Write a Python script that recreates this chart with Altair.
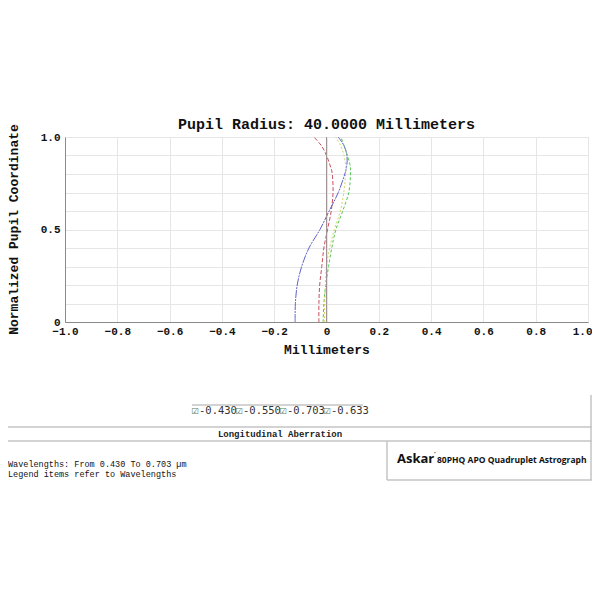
import altair as alt
import pandas as pd

# ---- data ----
pupil = [0.0, 0.1, 0.2, 0.3, 0.4, 0.5, 0.6, 0.7, 0.8, 0.85, 0.9, 0.95, 1.0]
wavelengths = ["0.430", "0.550", "0.703", "0.633"]
focus_430 = [-0.120, -0.119, -0.112, -0.095, -0.067, -0.025, 0.010, 0.045, 0.070, 0.078, 0.078, 0.068, 0.045]
focus_550 = [-0.013, -0.010, -0.003, 0.008, 0.020, 0.036, 0.062, 0.085, 0.092, 0.090, 0.080, 0.068, 0.055]
focus_703 = [-0.029, -0.029, -0.026, -0.018, -0.010, 0.004, 0.018, 0.025, 0.022, 0.013, 0.000, -0.018, -0.048]
focus_633 = [-0.008, -0.007, -0.004, 0.000, 0.012, 0.030, 0.053, 0.066, 0.073, 0.073, 0.067, 0.055, 0.035]
x_ticks = [-1.0, -0.8, -0.6, -0.4, -0.2, 0.0, 0.2, 0.4, 0.6, 0.8, 1.0]
y_ticks = [0.0, 0.1, 0.2, 0.3, 0.4, 0.5, 0.6, 0.7, 0.8, 0.9, 1.0]

colors = ["#5f63c9", "#55c455", "#c8505a", "#cfd460"]
dashes = [[8, 1, 2, 1], [3, 2], [4, 2], [2, 2]]

series = [focus_430, focus_550, focus_703, focus_633]
rows = []
for wl, vals in zip(wavelengths, series):
    for p, v in zip(pupil, vals):
        rows.append({"wl": wl, "mm": v, "pupil": p})
df = pd.DataFrame(rows)
one = pd.DataFrame({"k": [0]})

MONO = "Liberation Mono"
W, H = 523, 185

x_label = "datum.value == 0 ? '0' : format(datum.value, '.1f')"
y_label = ("abs(datum.value) < 0.001 ? '0' : (abs(datum.value - 0.5) < 0.001 ? '0.5' : "
           "(abs(datum.value - 1) < 0.001 ? '1.0' : ''))")

x_scale = alt.Scale(domain=[-1, 1], nice=False, zero=False)
y_scale = alt.Scale(domain=[0, 1], nice=False, zero=False)
x_axis = alt.Axis(values=x_ticks, labelExpr=x_label, title=None, ticks=False,
                  grid=True, gridColor="#e6e6e6", domainColor="#8a8a8a",
                  labelFont=MONO, labelFontWeight="bold", labelFontSize=11,
                  labelColor="#111", labelPadding=3, labelFlush=False,
                  labelOverlap=False,
                  labelAlign={"condition": {"test": "datum.value >= 0.99", "value": "right"},
                              "value": "center"},
                  labelOffset={"condition": {"test": "datum.value >= 0.99", "value": 4},
                               "value": 0})
y_axis = alt.Axis(values=y_ticks, labelExpr=y_label, title=None, ticks=False,
                  grid=True, gridColor="#e6e6e6", domainColor="#8a8a8a",
                  labelFont=MONO, labelFontWeight="bold", labelFontSize=11,
                  labelColor="#111", labelPadding=5, labelOverlap=False,
                  labelFlush=False)

curves = alt.Chart(df).mark_line(strokeWidth=1, interpolate="cardinal").encode(
    x=alt.X("mm:Q", scale=x_scale, axis=x_axis),
    y=alt.Y("pupil:Q", scale=y_scale, axis=y_axis),
    color=alt.Color("wl:N", scale=alt.Scale(domain=wavelengths, range=colors), legend=None),
    strokeDash=alt.StrokeDash("wl:N", scale=alt.Scale(domain=wavelengths, range=dashes), legend=None),
    order="pupil:Q",
)

zero_line = alt.Chart(pd.DataFrame({"mm": [0.0], "pupil": [0.0], "p2": [1.0]})).mark_rule(
    color="#a09292", strokeWidth=1).encode(
    x=alt.X("mm:Q", scale=x_scale, axis=x_axis),
    y=alt.Y("pupil:Q", scale=y_scale, axis=y_axis),
    y2="p2:Q")


def txt(t, x, y, size, font=MONO, weight="normal", align="left", angle=0, color="#111"):
    return alt.Chart(one).mark_text(text=t, font=font, fontSize=size, fontWeight=weight,
                                    align=align, baseline="middle", angle=angle,
                                    color=color).encode(x=alt.value(x), y=alt.value(y))


def hrule(x1, x2, y, color="#c4c4c4", w=1.5):
    return alt.Chart(one).mark_rule(color=color, strokeWidth=w).encode(
        x=alt.value(x1), x2=alt.value(x2), y=alt.value(y))


def vrule(x, y1, y2, color="#c4c4c4", w=1.5):
    return alt.Chart(one).mark_rule(color=color, strokeWidth=w).encode(
        x=alt.value(x), y=alt.value(y1), y2=alt.value(y2))


layers = [curves, zero_line,
          txt("Pupil Radius: 40.0000 Millimeters", 261.5, -13, 15, weight="bold", align="center"),
          txt("Normalized Pupil Coordinate", -51, 92.5, 13, weight="bold", align="center", angle=270),
          txt("Millimeters", 262, 213, 13, weight="bold", align="center"),
          hrule(127, 298, 268),
          hrule(-57, 527, 290),
          txt("Longitudinal Aberration", 215, 297, 9, weight="bold", align="center", color="#222"),
          hrule(-57, 527, 304),
          vrule(322, 304, 343),
          hrule(322, 527, 343),
          vrule(526, 258, 343),
          txt("Askar", 332, 322, 13, font="Open Sans", weight="bold"),
          txt("\u2032", 369, 318, 7, font="DejaVu Sans", weight="bold"),
          txt("80PHQ APO Quadruplet Astrograph", 372, 323, 8.5, font="Open Sans", weight="bold"),
          txt("Wavelengths: From 0.430 To 0.703 \u00b5m", -57, 327, 8.5),
          txt("Legend items refer to Wavelengths", -57, 337, 8.5)]

for i, wl in enumerate(wavelengths):
    x0 = 126.5 + i * 44
    layers.append(txt("\u2611", x0, 274, 8.5, font="DejaVu Sans", color="#5a7a5a"))
    layers.append(txt("-" + wl, x0 + 7.5, 274, 10.5, font="DejaVu Sans Mono", color="#333"))

chart = alt.layer(*layers).properties(
    width=W, height=H,
    autosize=alt.AutoSizeParams(type="none"),
    padding={"left": 57, "top": 129, "right": 4, "bottom": 190},
).configure_view(strokeWidth=0).configure(background="white")

chart.save("out.html", embed_options={"renderer": "svg", "actions": False})
